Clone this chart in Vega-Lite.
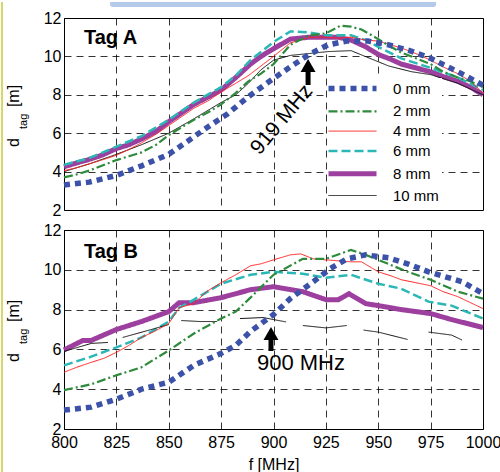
{
  "$schema": "https://vega.github.io/schema/vega-lite/v6.json",
  "padding": 0,
  "bounds": "flush",
  "spacing": 20,
  "config": {
    "font": "Liberation Sans",
    "view": {"stroke": "black", "strokeWidth": 1},
    "axis": {
      "labelFont": "Liberation Sans", "labelFontSize": 16, "labelColor": "black",
      "titleFont": "Liberation Sans", "titleFontSize": 16, "titleFontWeight": "normal", "titleColor": "black",
      "grid": true, "gridColor": "black", "gridDash": [7, 5], "gridWidth": 0.8, "gridOpacity": 1,
      "domain": false, "ticks": false, "labelFlush": false, "labelOverlap": false
    },
    "axisY": {"labelOverlap": false, "tickCount": 6, "labelPadding": 3}
  },
  "datasets": {
    "one": [{}],
    "A": [
      {"s": "8 mm", "f": 800, "d": 4.25}, {"s": "8 mm", "f": 806, "d": 4.45}, {"s": "8 mm", "f": 811, "d": 4.6}, {"s": "8 mm", "f": 818, "d": 4.85}, {"s": "8 mm", "f": 825, "d": 5.2}, {"s": "8 mm", "f": 831, "d": 5.4}, {"s": "8 mm", "f": 837, "d": 5.7}, {"s": "8 mm", "f": 844, "d": 6.1}, {"s": "8 mm", "f": 850, "d": 6.6}, {"s": "8 mm", "f": 856, "d": 7.05}, {"s": "8 mm", "f": 862, "d": 7.5}, {"s": "8 mm", "f": 869, "d": 7.9}, {"s": "8 mm", "f": 875, "d": 8.25}, {"s": "8 mm", "f": 882, "d": 8.9}, {"s": "8 mm", "f": 889, "d": 9.6}, {"s": "8 mm", "f": 894, "d": 10.0}, {"s": "8 mm", "f": 900, "d": 10.4}, {"s": "8 mm", "f": 908, "d": 10.9}, {"s": "8 mm", "f": 917, "d": 11.0}, {"s": "8 mm", "f": 925, "d": 11.0}, {"s": "8 mm", "f": 931, "d": 11.0}, {"s": "8 mm", "f": 937, "d": 10.85}, {"s": "8 mm", "f": 944, "d": 10.5}, {"s": "8 mm", "f": 950, "d": 10.1}, {"s": "8 mm", "f": 956, "d": 9.85}, {"s": "8 mm", "f": 961, "d": 9.6}, {"s": "8 mm", "f": 968, "d": 9.4}, {"s": "8 mm", "f": 975, "d": 9.2}, {"s": "8 mm", "f": 981, "d": 8.95}, {"s": "8 mm", "f": 988, "d": 8.7}, {"s": "8 mm", "f": 994, "d": 8.4}, {"s": "8 mm", "f": 1000, "d": 8.0},
      {"s": "6 mm", "f": 800, "d": 4.35}, {"s": "6 mm", "f": 812, "d": 4.7}, {"s": "6 mm", "f": 825, "d": 5.3}, {"s": "6 mm", "f": 837, "d": 5.85}, {"s": "6 mm", "f": 850, "d": 6.7}, {"s": "6 mm", "f": 862, "d": 7.6}, {"s": "6 mm", "f": 875, "d": 8.4}, {"s": "6 mm", "f": 882, "d": 9.0}, {"s": "6 mm", "f": 889, "d": 9.8}, {"s": "6 mm", "f": 900, "d": 10.75}, {"s": "6 mm", "f": 908, "d": 11.3}, {"s": "6 mm", "f": 917, "d": 11.25}, {"s": "6 mm", "f": 925, "d": 11.1}, {"s": "6 mm", "f": 937, "d": 11.1}, {"s": "6 mm", "f": 944, "d": 10.85}, {"s": "6 mm", "f": 950, "d": 10.5}, {"s": "6 mm", "f": 961, "d": 9.9}, {"s": "6 mm", "f": 975, "d": 9.4}, {"s": "6 mm", "f": 988, "d": 8.9}, {"s": "6 mm", "f": 1000, "d": 8.25},
      {"s": "10 mm", "f": 800, "d": 4.0}, {"s": "10 mm", "f": 812, "d": 4.4}, {"s": "10 mm", "f": 825, "d": 4.9}, {"s": "10 mm", "f": 837, "d": 5.4}, {"s": "10 mm", "f": 850, "d": 6.0}, {"s": "10 mm", "f": 862, "d": 6.75}, {"s": "10 mm", "f": 875, "d": 7.6}, {"s": "10 mm", "f": 882, "d": 8.0}, {"s": "10 mm", "f": 888, "d": 8.6}, {"s": "10 mm", "f": 894, "d": 9.3}, {"s": "10 mm", "f": 900, "d": 9.8}, {"s": "10 mm", "f": 908, "d": 10.05}, {"s": "10 mm", "f": 917, "d": 10.15}, {"s": "10 mm", "f": 926, "d": 10.25}, {"s": "10 mm", "f": 937, "d": 10.3}, {"s": "10 mm", "f": 946, "d": 9.9}, {"s": "10 mm", "f": 955, "d": 9.5}, {"s": "10 mm", "f": 966, "d": 9.2}, {"s": "10 mm", "f": 975, "d": 9.05}, {"s": "10 mm", "f": 988, "d": 8.6}, {"s": "10 mm", "f": 1000, "d": 8.0},
      {"s": "4 mm", "f": 800, "d": 4.05}, {"s": "4 mm", "f": 806, "d": 4.2}, {"s": "4 mm", "f": 812, "d": 4.4}, {"s": "4 mm", "f": 818, "d": 4.6}, {"s": "4 mm", "f": 825, "d": 4.85}, {"s": "4 mm", "f": 831, "d": 5.15}, {"s": "4 mm", "f": 837, "d": 5.5}, {"s": "4 mm", "f": 844, "d": 5.95}, {"s": "4 mm", "f": 850, "d": 6.4}, {"s": "4 mm", "f": 856, "d": 6.85}, {"s": "4 mm", "f": 862, "d": 7.3}, {"s": "4 mm", "f": 869, "d": 7.7}, {"s": "4 mm", "f": 875, "d": 8.15}, {"s": "4 mm", "f": 882, "d": 8.6}, {"s": "4 mm", "f": 888, "d": 9.0}, {"s": "4 mm", "f": 894, "d": 9.5}, {"s": "4 mm", "f": 900, "d": 10.0}, {"s": "4 mm", "f": 908, "d": 10.7}, {"s": "4 mm", "f": 917, "d": 11.0}, {"s": "4 mm", "f": 925, "d": 11.0}, {"s": "4 mm", "f": 931, "d": 10.95}, {"s": "4 mm", "f": 937, "d": 11.0}, {"s": "4 mm", "f": 944, "d": 10.85}, {"s": "4 mm", "f": 950, "d": 10.8}, {"s": "4 mm", "f": 956, "d": 10.6}, {"s": "4 mm", "f": 962, "d": 10.4}, {"s": "4 mm", "f": 969, "d": 10.1}, {"s": "4 mm", "f": 975, "d": 9.8}, {"s": "4 mm", "f": 981, "d": 9.45}, {"s": "4 mm", "f": 988, "d": 9.1}, {"s": "4 mm", "f": 994, "d": 8.7}, {"s": "4 mm", "f": 1000, "d": 8.1},
      {"s": "2 mm", "f": 800, "d": 3.7}, {"s": "2 mm", "f": 806, "d": 3.85}, {"s": "2 mm", "f": 812, "d": 4.05}, {"s": "2 mm", "f": 818, "d": 4.3}, {"s": "2 mm", "f": 825, "d": 4.6}, {"s": "2 mm", "f": 831, "d": 4.8}, {"s": "2 mm", "f": 837, "d": 5.0}, {"s": "2 mm", "f": 844, "d": 5.4}, {"s": "2 mm", "f": 850, "d": 5.9}, {"s": "2 mm", "f": 856, "d": 6.3}, {"s": "2 mm", "f": 862, "d": 6.7}, {"s": "2 mm", "f": 869, "d": 7.1}, {"s": "2 mm", "f": 875, "d": 7.5}, {"s": "2 mm", "f": 882, "d": 8.1}, {"s": "2 mm", "f": 888, "d": 8.7}, {"s": "2 mm", "f": 894, "d": 9.1}, {"s": "2 mm", "f": 900, "d": 9.6}, {"s": "2 mm", "f": 908, "d": 10.6}, {"s": "2 mm", "f": 917, "d": 11.1}, {"s": "2 mm", "f": 925, "d": 11.2}, {"s": "2 mm", "f": 932, "d": 11.6}, {"s": "2 mm", "f": 937, "d": 11.55}, {"s": "2 mm", "f": 942, "d": 11.4}, {"s": "2 mm", "f": 950, "d": 10.9}, {"s": "2 mm", "f": 956, "d": 10.5}, {"s": "2 mm", "f": 961, "d": 10.2}, {"s": "2 mm", "f": 968, "d": 9.9}, {"s": "2 mm", "f": 975, "d": 9.6}, {"s": "2 mm", "f": 981, "d": 9.2}, {"s": "2 mm", "f": 988, "d": 8.9}, {"s": "2 mm", "f": 994, "d": 8.7}, {"s": "2 mm", "f": 1000, "d": 8.4},
      {"s": "0 mm", "f": 800, "d": 3.3}, {"s": "0 mm", "f": 812, "d": 3.45}, {"s": "0 mm", "f": 825, "d": 3.8}, {"s": "0 mm", "f": 837, "d": 4.3}, {"s": "0 mm", "f": 850, "d": 4.9}, {"s": "0 mm", "f": 858, "d": 5.5}, {"s": "0 mm", "f": 867, "d": 6.2}, {"s": "0 mm", "f": 878, "d": 7.0}, {"s": "0 mm", "f": 888, "d": 7.9}, {"s": "0 mm", "f": 900, "d": 8.85}, {"s": "0 mm", "f": 908, "d": 9.45}, {"s": "0 mm", "f": 917, "d": 10.1}, {"s": "0 mm", "f": 926, "d": 10.6}, {"s": "0 mm", "f": 935, "d": 10.8}, {"s": "0 mm", "f": 945, "d": 10.8}, {"s": "0 mm", "f": 955, "d": 10.6}, {"s": "0 mm", "f": 965, "d": 10.3}, {"s": "0 mm", "f": 975, "d": 9.9}, {"s": "0 mm", "f": 988, "d": 9.2}, {"s": "0 mm", "f": 1000, "d": 8.5}
    ],
    "B": [
      {"s": "8 mm", "f": 800, "d": 5.97}, {"s": "8 mm", "f": 809, "d": 6.45}, {"s": "8 mm", "f": 813, "d": 6.45}, {"s": "8 mm", "f": 825, "d": 7.0}, {"s": "8 mm", "f": 837, "d": 7.4}, {"s": "8 mm", "f": 850, "d": 7.9}, {"s": "8 mm", "f": 855, "d": 8.35}, {"s": "8 mm", "f": 862, "d": 8.35}, {"s": "8 mm", "f": 875, "d": 8.6}, {"s": "8 mm", "f": 889, "d": 9.0}, {"s": "8 mm", "f": 900, "d": 9.15}, {"s": "8 mm", "f": 914, "d": 8.9}, {"s": "8 mm", "f": 925, "d": 8.5}, {"s": "8 mm", "f": 931, "d": 8.5}, {"s": "8 mm", "f": 936, "d": 8.8}, {"s": "8 mm", "f": 944, "d": 8.3}, {"s": "8 mm", "f": 950, "d": 8.2}, {"s": "8 mm", "f": 961, "d": 8.0}, {"s": "8 mm", "f": 975, "d": 7.8}, {"s": "8 mm", "f": 985, "d": 7.5}, {"s": "8 mm", "f": 1000, "d": 7.1},
      {"s": "6 mm", "f": 800, "d": 5.2}, {"s": "6 mm", "f": 812, "d": 5.6}, {"s": "6 mm", "f": 825, "d": 6.1}, {"s": "6 mm", "f": 837, "d": 6.6}, {"s": "6 mm", "f": 850, "d": 7.4}, {"s": "6 mm", "f": 855, "d": 8.1}, {"s": "6 mm", "f": 862, "d": 8.5}, {"s": "6 mm", "f": 875, "d": 9.3}, {"s": "6 mm", "f": 889, "d": 9.75}, {"s": "6 mm", "f": 900, "d": 9.9}, {"s": "6 mm", "f": 914, "d": 9.8}, {"s": "6 mm", "f": 925, "d": 9.6}, {"s": "6 mm", "f": 937, "d": 9.75}, {"s": "6 mm", "f": 950, "d": 9.3}, {"s": "6 mm", "f": 961, "d": 9.05}, {"s": "6 mm", "f": 974, "d": 8.4}, {"s": "6 mm", "f": 985, "d": 8.2}, {"s": "6 mm", "f": 1000, "d": 7.55},
      {"s": "10 mm", "f": 800, "d": 5.9}, {"s": "10 mm", "f": 813, "d": 6.3}, {"s": "10 mm", "f": 821, "d": 6.35}, {"s": "10 mm", "f": 824, "d": null}, {"s": "10 mm", "f": 828, "d": 6.6}, {"s": "10 mm", "f": 840, "d": 6.95}, {"s": "10 mm", "f": 850, "d": 7.25}, {"s": "10 mm", "f": 853, "d": null}, {"s": "10 mm", "f": 856, "d": 7.45}, {"s": "10 mm", "f": 865, "d": 7.4}, {"s": "10 mm", "f": 873, "d": 7.4}, {"s": "10 mm", "f": 878, "d": null}, {"s": "10 mm", "f": 884, "d": 7.55}, {"s": "10 mm", "f": 895, "d": 7.6}, {"s": "10 mm", "f": 906, "d": 7.38}, {"s": "10 mm", "f": 910, "d": null}, {"s": "10 mm", "f": 914, "d": 7.2}, {"s": "10 mm", "f": 925, "d": 7.08}, {"s": "10 mm", "f": 935, "d": 7.2}, {"s": "10 mm", "f": 939, "d": null}, {"s": "10 mm", "f": 943, "d": 6.97}, {"s": "10 mm", "f": 950, "d": 6.87}, {"s": "10 mm", "f": 964, "d": 6.5}, {"s": "10 mm", "f": 969, "d": null}, {"s": "10 mm", "f": 974, "d": 6.87}, {"s": "10 mm", "f": 985, "d": 6.72}, {"s": "10 mm", "f": 990, "d": 6.47},
      {"s": "4 mm", "f": 800, "d": 4.85}, {"s": "4 mm", "f": 806, "d": 5.1}, {"s": "4 mm", "f": 813, "d": 5.35}, {"s": "4 mm", "f": 819, "d": 5.55}, {"s": "4 mm", "f": 825, "d": 5.85}, {"s": "4 mm", "f": 831, "d": 6.2}, {"s": "4 mm", "f": 837, "d": 6.6}, {"s": "4 mm", "f": 844, "d": 6.95}, {"s": "4 mm", "f": 850, "d": 7.3}, {"s": "4 mm", "f": 855, "d": 8.1}, {"s": "4 mm", "f": 862, "d": 8.3}, {"s": "4 mm", "f": 868, "d": 8.9}, {"s": "4 mm", "f": 875, "d": 9.35}, {"s": "4 mm", "f": 882, "d": 9.75}, {"s": "4 mm", "f": 889, "d": 10.2}, {"s": "4 mm", "f": 894, "d": 10.3}, {"s": "4 mm", "f": 900, "d": 10.5}, {"s": "4 mm", "f": 908, "d": 10.75}, {"s": "4 mm", "f": 913, "d": 10.8}, {"s": "4 mm", "f": 919, "d": 10.55}, {"s": "4 mm", "f": 925, "d": 10.5}, {"s": "4 mm", "f": 931, "d": 10.45}, {"s": "4 mm", "f": 937, "d": 10.4}, {"s": "4 mm", "f": 942, "d": 10.4}, {"s": "4 mm", "f": 950, "d": 9.9}, {"s": "4 mm", "f": 956, "d": 9.7}, {"s": "4 mm", "f": 961, "d": 9.5}, {"s": "4 mm", "f": 968, "d": 9.35}, {"s": "4 mm", "f": 975, "d": 9.2}, {"s": "4 mm", "f": 981, "d": 8.9}, {"s": "4 mm", "f": 988, "d": 8.65}, {"s": "4 mm", "f": 994, "d": 8.35}, {"s": "4 mm", "f": 1000, "d": 8.05},
      {"s": "2 mm", "f": 800, "d": 3.95}, {"s": "2 mm", "f": 813, "d": 4.25}, {"s": "2 mm", "f": 825, "d": 4.7}, {"s": "2 mm", "f": 837, "d": 5.1}, {"s": "2 mm", "f": 850, "d": 5.95}, {"s": "2 mm", "f": 862, "d": 6.8}, {"s": "2 mm", "f": 875, "d": 7.55}, {"s": "2 mm", "f": 882, "d": 7.9}, {"s": "2 mm", "f": 889, "d": 8.6}, {"s": "2 mm", "f": 900, "d": 9.75}, {"s": "2 mm", "f": 914, "d": 10.55}, {"s": "2 mm", "f": 925, "d": 10.55}, {"s": "2 mm", "f": 937, "d": 11.0}, {"s": "2 mm", "f": 944, "d": 10.75}, {"s": "2 mm", "f": 950, "d": 10.5}, {"s": "2 mm", "f": 964, "d": 9.9}, {"s": "2 mm", "f": 975, "d": 9.5}, {"s": "2 mm", "f": 988, "d": 8.9}, {"s": "2 mm", "f": 1000, "d": 8.55},
      {"s": "0 mm", "f": 800, "d": 2.95}, {"s": "0 mm", "f": 813, "d": 3.1}, {"s": "0 mm", "f": 825, "d": 3.5}, {"s": "0 mm", "f": 837, "d": 4.0}, {"s": "0 mm", "f": 850, "d": 4.35}, {"s": "0 mm", "f": 862, "d": 5.2}, {"s": "0 mm", "f": 875, "d": 5.8}, {"s": "0 mm", "f": 882, "d": 6.2}, {"s": "0 mm", "f": 889, "d": 6.9}, {"s": "0 mm", "f": 900, "d": 7.75}, {"s": "0 mm", "f": 908, "d": 8.55}, {"s": "0 mm", "f": 919, "d": 9.4}, {"s": "0 mm", "f": 927, "d": 10.05}, {"s": "0 mm", "f": 935, "d": 10.55}, {"s": "0 mm", "f": 944, "d": 10.75}, {"s": "0 mm", "f": 955, "d": 10.6}, {"s": "0 mm", "f": 964, "d": 10.3}, {"s": "0 mm", "f": 974, "d": 9.9}, {"s": "0 mm", "f": 990, "d": 9.4}, {"s": "0 mm", "f": 1000, "d": 8.8}
    ]
  },
  "resolve": {
    "scale": {"color": "independent", "strokeDash": "independent"},
    "legend": {"color": "independent", "strokeDash": "independent"}
  },
  "vconcat": [
    {
      "width": 419,
      "height": 192,
      "layer": [
        {
          "data": {"name": "A"},
          "mark": {"type": "line", "strokeCap": "butt", "invalid": "break-paths-show-domains"},
          "encoding": {
            "x": {"field": "f", "type": "quantitative", "scale": {"domain": [800, 1000], "nice": false, "zero": false},
                  "axis": {"values": [800, 825, 850, 875, 900, 925, 950, 975, 1000], "labels": false, "title": null}},
            "y": {"field": "d", "type": "quantitative", "scale": {"domain": [2, 12], "nice": false, "zero": false},
                  "axis": {"values": [2, 4, 6, 8, 10, 12], "title": null, "labelOverlap": false}},
            "color": {"field": "s", "type": "nominal",
                      "scale": {"domain": ["0 mm", "2 mm", "4 mm", "6 mm", "8 mm", "10 mm"], "range": ["#3b52a8", "#2e8b3c", "#ff2020", "#2cb7b7", "#9c3f9e", "#111111"]},
                      "legend": {"title": null, "orient": "none", "legendX": 264, "legendY": 60, "fillColor": "white", "padding": 3,
                                 "symbolType": "M-1,0H3.8", "symbolSize": 400, "labelFontSize": 15, "labelFont": "Liberation Sans", "labelColor": "black",
                                 "labelOffset": 47, "rowPadding": 3.8,
                                 "encode": {"symbols": {"update": {"strokeWidth": {"signal": "datum.value === '0 mm' ? 5.5 : datum.value === '2 mm' ? 2.2 : datum.value === '6 mm' ? 2.5 : datum.value === '8 mm' ? 5 : 1"}}}}}},
            "strokeDash": {"field": "s", "type": "nominal",
                           "scale": {"domain": ["0 mm", "2 mm", "4 mm", "6 mm", "8 mm", "10 mm"], "range": [[6, 5], [9, 3, 2, 3], [1, 0], [9, 4], [1, 0], [1, 0]]},
                           "legend": {"title": null, "orient": "none", "legendX": 264, "legendY": 60, "fillColor": "white", "padding": 3,
                                 "symbolType": "M-1,0H3.8", "symbolSize": 400, "labelFontSize": 15, "labelFont": "Liberation Sans", "labelColor": "black",
                                 "labelOffset": 47, "rowPadding": 3.8,
                                 "encode": {"symbols": {"update": {"strokeWidth": {"signal": "datum.value === '0 mm' ? 5.5 : datum.value === '2 mm' ? 2.2 : datum.value === '6 mm' ? 2.5 : datum.value === '8 mm' ? 5 : 1"}}}}}},
            "strokeWidth": {"condition": [{"test": "datum.s === '0 mm'", "value": 5.5}, {"test": "datum.s === '2 mm'", "value": 2.2}, {"test": "datum.s === '6 mm'", "value": 2.5}, {"test": "datum.s === '8 mm'", "value": 5}], "value": 1}
          }
        },
        {
          "data": {"name": "one"},
          "mark": {"type": "text", "text": "Tag A", "fontSize": 20, "fontWeight": "bold", "font": "Liberation Sans", "align": "left", "baseline": "middle", "color": "black"},
          "encoding": {"x": {"datum": 809.5}, "y": {"datum": 10.96}}
        },
        {
          "data": {"name": "one"},
          "mark": {"type": "rule", "strokeWidth": 5, "color": "black"},
          "encoding": {"x": {"datum": 916.5}, "y": {"datum": 9.3}, "y2": {"datum": 8.51}}
        },
        {
          "data": {"name": "one"},
          "mark": {"type": "point", "shape": "M-1.15,1H1.15L0,-1Z", "size": 169, "filled": true, "color": "black", "opacity": 1, "strokeWidth": 0},
          "encoding": {"x": {"datum": 916.5}, "y": {"datum": 9.53}}
        },
        {
          "data": {"name": "one"},
          "mark": {"type": "text", "text": "919 MHz", "fontSize": 21, "font": "Liberation Sans", "angle": 310, "align": "center", "baseline": "middle", "color": "black"},
          "encoding": {"x": {"datum": 904}, "y": {"datum": 6.7}}
        },
        {
          "data": {"name": "one"},
          "mark": {"type": "text", "text": "d", "fontSize": 16, "font": "Liberation Sans", "angle": 270, "align": "left", "baseline": "alphabetic", "color": "black"},
          "encoding": {"x": {"datum": 778.5}, "y": {"datum": 5.28}}
        },
        {
          "data": {"name": "one"},
          "mark": {"type": "text", "text": "tag", "fontSize": 11, "font": "Liberation Sans", "angle": 270, "align": "left", "baseline": "alphabetic", "color": "black"},
          "encoding": {"x": {"datum": 782.5}, "y": {"datum": 6.22}}
        },
        {
          "data": {"name": "one"},
          "mark": {"type": "text", "text": "[m]", "fontSize": 16, "font": "Liberation Sans", "angle": 270, "align": "left", "baseline": "alphabetic", "color": "black"},
          "encoding": {"x": {"datum": 778.5}, "y": {"datum": 7.36}}
        },
        {
          "data": {"name": "one"},
          "mark": {"type": "rect", "color": "#b5cae8", "cornerRadiusBottomLeft": 5, "cornerRadiusBottomRight": 5},
          "encoding": {"x": {"datum": 822}, "x2": {"datum": 977.6}, "y": {"datum": 12.57}, "y2": {"datum": 12.833}}
        },
        {
          "data": {"name": "one"},
          "mark": {"type": "rule", "strokeWidth": 2, "color": "#d8d86a"},
          "encoding": {"x": {"datum": 770.4}, "y": {"datum": 12.833}, "y2": {"datum": 0.958}}
        }
      ]
    },
    {
      "width": 419,
      "height": 199,
      "layer": [
        {
          "data": {"name": "B"},
          "mark": {"type": "line", "strokeCap": "butt", "invalid": "break-paths-show-domains"},
          "encoding": {
            "x": {"field": "f", "type": "quantitative", "scale": {"domain": [800, 1000], "nice": false, "zero": false},
                  "axis": {"values": [800, 825, 850, 875, 900, 925, 950, 975, 1000], "title": "f [MHz]", "labelPadding": 5, "titlePadding": 6, "format": "d"}},
            "y": {"field": "d", "type": "quantitative", "scale": {"domain": [2, 12], "nice": false, "zero": false},
                  "axis": {"values": [2, 4, 6, 8, 10, 12], "title": null, "labelOverlap": false}},
            "color": {"field": "s", "type": "nominal",
                      "scale": {"domain": ["0 mm", "2 mm", "4 mm", "6 mm", "8 mm", "10 mm"], "range": ["#3b52a8", "#2e8b3c", "#ff2020", "#2cb7b7", "#9c3f9e", "#111111"]},
                      "legend": null},
            "strokeDash": {"field": "s", "type": "nominal",
                           "scale": {"domain": ["0 mm", "2 mm", "4 mm", "6 mm", "8 mm", "10 mm"], "range": [[6, 5], [9, 3, 2, 3], [1, 0], [9, 4], [1, 0], [1, 0]]},
                           "legend": null},
            "strokeWidth": {"condition": [{"test": "datum.s === '0 mm'", "value": 5.5}, {"test": "datum.s === '2 mm'", "value": 2.2}, {"test": "datum.s === '6 mm'", "value": 2.5}, {"test": "datum.s === '8 mm'", "value": 5}], "value": 1}
          }
        },
        {
          "data": {"name": "one"},
          "mark": {"type": "text", "text": "Tag B", "fontSize": 20, "fontWeight": "bold", "font": "Liberation Sans", "align": "left", "baseline": "middle", "color": "black"},
          "encoding": {"x": {"datum": 809.5}, "y": {"datum": 10.9}}
        },
        {
          "data": {"name": "one"},
          "mark": {"type": "rule", "strokeWidth": 5, "color": "black"},
          "encoding": {"x": {"datum": 898.8}, "y": {"datum": 6.6}, "y2": {"datum": 5.92}}
        },
        {
          "data": {"name": "one"},
          "mark": {"type": "point", "shape": "M-1.15,1H1.15L0,-1Z", "size": 169, "filled": true, "color": "black", "opacity": 1, "strokeWidth": 0},
          "encoding": {"x": {"datum": 898.8}, "y": {"datum": 6.8}}
        },
        {
          "data": {"name": "one"},
          "mark": {"type": "text", "text": "900 MHz", "fontSize": 22, "font": "Liberation Sans", "align": "center", "baseline": "middle", "color": "black"},
          "encoding": {"x": {"datum": 913.1}, "y": {"datum": 5.32}}
        },
        {
          "data": {"name": "one"},
          "mark": {"type": "text", "text": "d", "fontSize": 16, "font": "Liberation Sans", "angle": 270, "align": "left", "baseline": "alphabetic", "color": "black"},
          "encoding": {"x": {"datum": 778.5}, "y": {"datum": 5.37}}
        },
        {
          "data": {"name": "one"},
          "mark": {"type": "text", "text": "tag", "fontSize": 11, "font": "Liberation Sans", "angle": 270, "align": "left", "baseline": "alphabetic", "color": "black"},
          "encoding": {"x": {"datum": 782.5}, "y": {"datum": 6.27}}
        },
        {
          "data": {"name": "one"},
          "mark": {"type": "text", "text": "[m]", "fontSize": 16, "font": "Liberation Sans", "angle": 270, "align": "left", "baseline": "alphabetic", "color": "black"},
          "encoding": {"x": {"datum": 778.5}, "y": {"datum": 7.38}}
        },
        {
          "data": {"name": "one"},
          "mark": {"type": "rule", "strokeWidth": 2, "color": "#d8d86a"},
          "encoding": {"x": {"datum": 770.4}, "y": {"datum": 12}, "y2": {"datum": -0.26}}
        }
      ]
    }
  ]
}
